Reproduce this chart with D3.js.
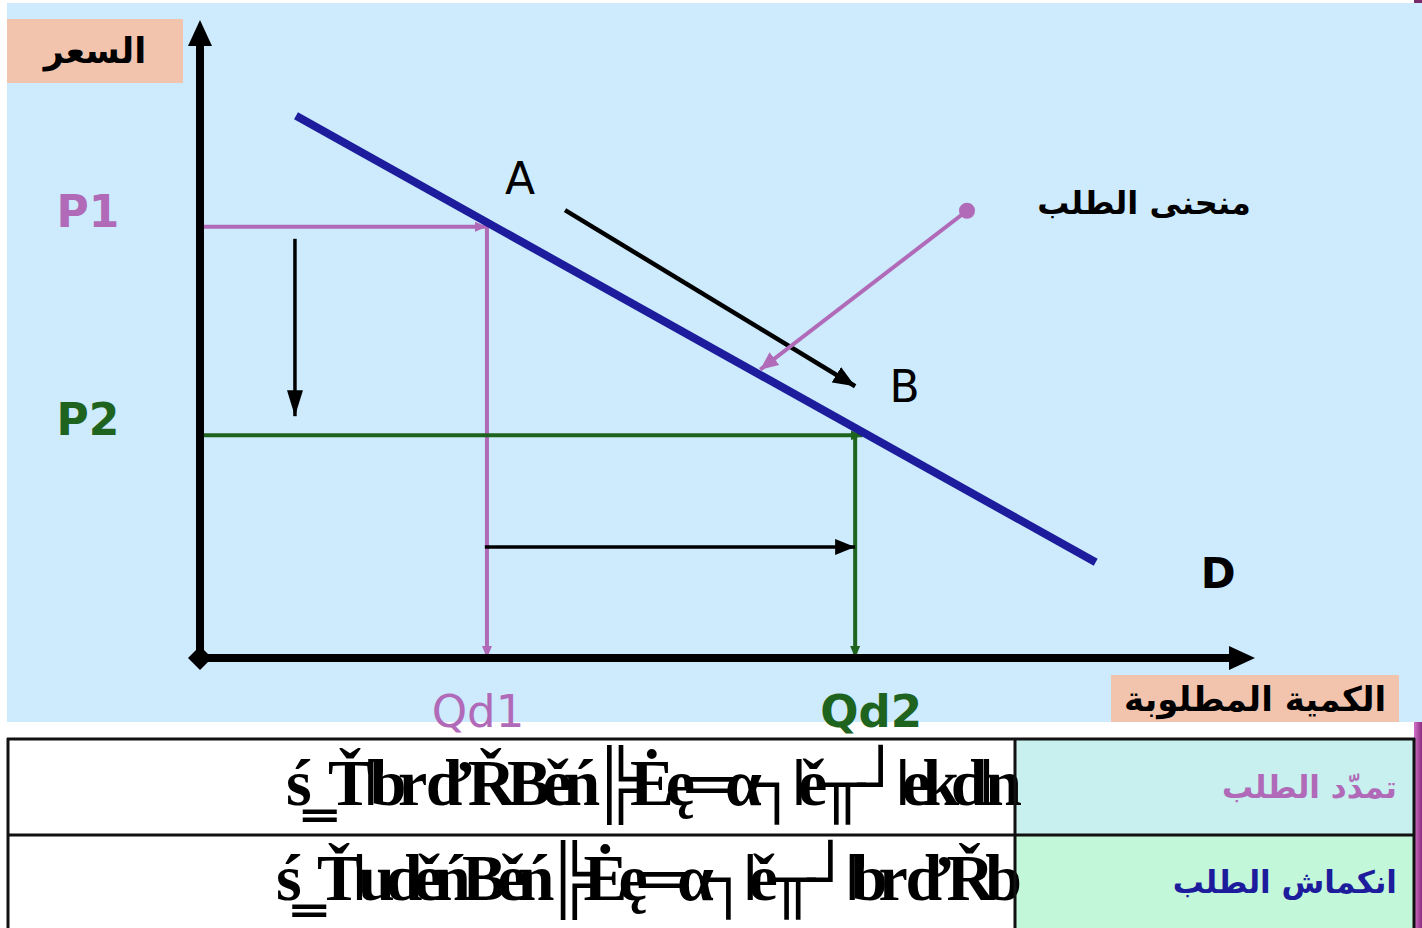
<!DOCTYPE html>
<html>
<head>
<meta charset="utf-8">
<script src="https://cdn.jsdelivr.net/npm/d3@7"></script>
<style>
html,body{margin:0;padding:0;background:#ffffff;}
svg{display:block;}
</style>
</head>
<body>
<svg id="chart" width="1422" height="928"></svg>
<script>
// ---- data ----
const priceLabels = ["P1", "P2"];
const priceValues = [67.6, 34.9];
const qtyLabels = ["Qd1", "Qd2"];
const qtyValues = [27.2, 62.1];
const demandCurve = [[9.1, 85.0], [84.9, 15.0]];
const pointLabels = ["A", "B"];
const pointValues = [[27.2, 67.6], [62.8, 34.9]];
const moveArrow = [[34.6, 70.2], [62.1, 42.6]];
const priceDropArrow = [[9.0, 65.7], [9.0, 37.9]];
const qtyRiseArrow = [[27.0, 17.4], [62.1, 17.4]];
const curvePointer = [[72.7, 70.1], [53.1, 45.2]];
const axisTitleY = "السعر";
const axisTitleX = "الكمية المطلوبة";
const curveTitle = "منحنى الطلب";
const curveName = "D";
const tableLabels = ["تمدّد الطلب", "انكماش الطلب"];
const tableGarbled = [
  "ś‗Ťǀbr d’ŘBěń╠Ėę═α┐ǀě╥┘ǀekdǀn",
  "ś‗ŤǀuděńBěń╠Ėę═α┐ǀě╥┘ǀbr d’Řb"
];

// ---- colours ----
const C = {
  bg: "#cdebfd", box: "#f2c4ae", purple: "#b06ab8", green: "#1e631e",
  blue: "#1c1c9c", black: "#000000", row1: "#c8f0ee", row2: "#c3f7da"
};

const svg = d3.select("#chart");
const x = d3.scaleLinear().domain([0, 100]).range([200, 1255]);
const y = d3.scaleLinear().domain([0, 100]).range([658, 20]);

// right edge decoration
const defs = svg.append("defs");
const grad = defs.append("linearGradient").attr("id", "edge")
  .attr("x1", 0).attr("x2", 1).attr("y1", 0).attr("y2", 0);
grad.append("stop").attr("offset", "0").attr("stop-color", "#d070c8");
grad.append("stop").attr("offset", "1").attr("stop-color", "#8c2c80");
svg.append("rect").attr("x", 1414).attr("y", 0).attr("width", 8).attr("height", 4).attr("fill", "#7a2a6a");
svg.append("rect").attr("x", 1414).attr("y", 722).attr("width", 8).attr("height", 206).attr("fill", "url(#edge)");

// background panel
svg.append("rect").attr("x", 7).attr("y", 3).attr("width", 1415).attr("height", 719).attr("fill", C.bg);

// markers
function marker(id, color, len, wid) {
  defs.append("marker").attr("id", id)
    .attr("markerUnits", "userSpaceOnUse")
    .attr("viewBox", `0 0 ${len} ${wid}`)
    .attr("refX", len).attr("refY", wid / 2)
    .attr("markerWidth", len).attr("markerHeight", wid)
    .attr("orient", "auto")
    .append("path").attr("d", `M0,0 L${len},${wid / 2} L0,${wid} Z`).attr("fill", color);
}
marker("mPurple", C.purple, 12, 10);
marker("mGreen", C.green, 12, 10);
marker("mBlack", C.black, 20, 16);
marker("mBlackBig", C.black, 22, 18);
marker("mDown", C.black, 26, 16);
marker("mPointer", C.purple, 18, 16);

// label boxes
svg.append("rect").attr("x", 7).attr("y", 19).attr("width", 176).attr("height", 64).attr("fill", C.box);
svg.append("text").attr("x", 95).attr("y", 63).attr("text-anchor", "middle")
  .attr("font-family", "DejaVu Sans").attr("font-weight", "bold").attr("font-size", 35)
  .attr("fill", C.black).text(axisTitleY);

svg.append("rect").attr("x", 1111).attr("y", 675).attr("width", 288).attr("height", 47).attr("fill", C.box);
svg.append("text").attr("x", 1255).attr("y", 711).attr("text-anchor", "middle")
  .attr("font-family", "DejaVu Sans").attr("font-weight", "bold").attr("font-size", 34)
  .attr("fill", C.black).text(axisTitleX);

// guide lines P1 (purple)
const g = svg.append("g");
g.append("line").attr("x1", x(0) - 3).attr("y1", y(priceValues[0])).attr("x2", x(pointValues[0][0])).attr("y2", y(priceValues[0]))
  .attr("stroke", C.purple).attr("stroke-width", 4).attr("marker-end", "url(#mPurple)");
g.append("line").attr("x1", x(qtyValues[0])).attr("y1", y(priceValues[0])).attr("x2", x(qtyValues[0])).attr("y2", y(0))
  .attr("stroke", C.purple).attr("stroke-width", 4).attr("marker-end", "url(#mPurple)");
// guide lines P2 (green)
g.append("line").attr("x1", x(0) - 3).attr("y1", y(priceValues[1])).attr("x2", x(pointValues[1][0])).attr("y2", y(priceValues[1]))
  .attr("stroke", C.green).attr("stroke-width", 4).attr("marker-end", "url(#mGreen)");
g.append("line").attr("x1", x(qtyValues[1])).attr("y1", y(priceValues[1])).attr("x2", x(qtyValues[1])).attr("y2", y(0))
  .attr("stroke", C.green).attr("stroke-width", 4).attr("marker-end", "url(#mGreen)");

// demand curve
svg.append("path").datum(demandCurve)
  .attr("d", d3.line().x(d => x(d[0])).y(d => y(d[1])))
  .attr("stroke", C.blue).attr("stroke-width", 8).attr("fill", "none");

// black arrows
svg.append("path").datum(moveArrow)
  .attr("d", d3.line().x(d => x(d[0])).y(d => y(d[1])))
  .attr("stroke", C.black).attr("stroke-width", 4.5).attr("fill", "none").attr("marker-end", "url(#mBlackBig)");
svg.append("path").datum(priceDropArrow)
  .attr("d", d3.line().x(d => x(d[0])).y(d => y(d[1])))
  .attr("stroke", C.black).attr("stroke-width", 3.5).attr("fill", "none").attr("marker-end", "url(#mDown)");
svg.append("path").datum(qtyRiseArrow)
  .attr("d", d3.line().x(d => x(d[0])).y(d => y(d[1])))
  .attr("stroke", C.black).attr("stroke-width", 3.5).attr("fill", "none").attr("marker-end", "url(#mBlack)");

// purple pointer
svg.append("path").datum(curvePointer)
  .attr("d", d3.line().x(d => x(d[0])).y(d => y(d[1])))
  .attr("stroke", C.purple).attr("stroke-width", 4).attr("fill", "none").attr("marker-end", "url(#mPointer)");
svg.append("circle").attr("cx", x(curvePointer[0][0])).attr("cy", y(curvePointer[0][1])).attr("r", 8).attr("fill", C.purple);

// axes
svg.append("line").attr("x1", x(0)).attr("y1", y(0)).attr("x2", x(0)).attr("y2", y(100) + 22)
  .attr("stroke", C.black).attr("stroke-width", 8);
svg.append("path").attr("d", `M${x(0)},${y(100)} L${x(0) + 12},${y(100) + 26} L${x(0) - 12},${y(100) + 26} Z`).attr("fill", C.black);
svg.append("line").attr("x1", x(0)).attr("y1", y(0)).attr("x2", x(100) - 22).attr("y2", y(0))
  .attr("stroke", C.black).attr("stroke-width", 8);
svg.append("path").attr("d", `M${x(100)},${y(0)} L${x(100) - 26},${y(0) - 12} L${x(100) - 26},${y(0) + 12} Z`).attr("fill", C.black);
svg.append("path").attr("d", `M${x(0)},${y(0) - 12} L${x(0) + 12},${y(0)} L${x(0)},${y(0) + 12} L${x(0) - 12},${y(0)} Z`).attr("fill", C.black);

// price labels
const priceColors = [C.purple, C.green];
svg.selectAll(".plab").data(priceLabels).join("text")
  .attr("x", 88).attr("y", (d, i) => y(priceValues[i]) - 12)
  .attr("dominant-baseline", "middle").attr("text-anchor", "middle")
  .attr("font-family", "DejaVu Sans").attr("font-weight", "bold").attr("font-size", 44)
  .attr("fill", (d, i) => priceColors[i]).text(d => d);

// qty labels
svg.selectAll(".qlab").data(qtyLabels).join("text")
  .attr("x", (d, i) => x(qtyValues[i]) + (i === 0 ? -9 : 16)).attr("y", 727)
  .attr("text-anchor", "middle")
  .attr("font-family", "DejaVu Sans").attr("font-weight", (d, i) => i === 0 ? "normal" : "bold").attr("font-size", 45)
  .attr("fill", (d, i) => priceColors[i]).text(d => d);

// point labels
const pOff = [[33, -45], [42, -45]];
svg.selectAll(".ptlab").data(pointLabels).join("text")
  .attr("x", (d, i) => x(pointValues[i][0]) + pOff[i][0]).attr("y", (d, i) => y(pointValues[i][1]) + pOff[i][1])
  .attr("dominant-baseline", "middle").attr("text-anchor", "middle")
  .attr("font-family", "DejaVu Sans").attr("font-size", 44)
  .attr("fill", C.black).text(d => d);

// curve name and title
svg.append("text").attr("x", x(96.5)).attr("y", 588).attr("text-anchor", "middle")
  .attr("font-family", "DejaVu Sans").attr("font-weight", "bold").attr("font-size", 42)
  .attr("fill", C.black).text(curveName);
svg.append("text").attr("x", 1144).attr("y", 214).attr("text-anchor", "middle")
  .attr("font-family", "DejaVu Sans").attr("font-weight", "bold").attr("font-size", 32)
  .attr("fill", C.black).text(curveTitle);

// table
const rowTop = [738, 835], rowH = [97, 93];
const rowFill = [C.row1, C.row2];
const rowTextColor = [C.purple, C.blue];
rowTop.forEach((t, i) => {
  svg.append("rect").attr("x", 8).attr("y", t).attr("width", 1007).attr("height", rowH[i]).attr("fill", "#ffffff");
  svg.append("rect").attr("x", 1015).attr("y", t).attr("width", 399).attr("height", rowH[i]).attr("fill", rowFill[i]);
});
svg.selectAll(".tlab").data(tableLabels).join("text")
  .attr("x", 1397).attr("y", (d, i) => [798, 893][i]).attr("text-anchor", "end")
  .attr("font-family", "DejaVu Sans").attr("font-weight", "bold").attr("font-size", 31)
  .attr("fill", (d, i) => rowTextColor[i]).text(d => d);
const gStart = [286, 276];
const gl = svg.selectAll(".glab").data(tableGarbled).join("text")
  .attr("x", (d, i) => gStart[i]).attr("y", (d, i) => [805, 900][i])
  .attr("font-family", "Liberation Serif").attr("font-weight", "bold").attr("font-size", 66)
  .attr("fill", C.black).text(d => d);
// squeeze the glyphs together with negative letter spacing so the run fits its cell
gl.each(function (d, i) {
  const natural = this.getComputedTextLength();
  const n = Array.from(d).length;
  const target = 1022 - gStart[i];
  d3.select(this).attr("letter-spacing", (target - natural) / (n - 1));
});
// table grid
const grid = svg.append("g").attr("stroke", "#111").attr("stroke-width", 3).attr("fill", "none");
grid.append("line").attr("x1", 7).attr("y1", 739).attr("x2", 1415).attr("y2", 739);
grid.append("line").attr("x1", 7).attr("y1", 835).attr("x2", 1415).attr("y2", 835);
grid.append("line").attr("x1", 8).attr("y1", 738).attr("x2", 8).attr("y2", 928);
grid.append("line").attr("x1", 1015).attr("y1", 738).attr("x2", 1015).attr("y2", 928);
grid.append("line").attr("x1", 1414).attr("y1", 738).attr("x2", 1414).attr("y2", 928);
</script>
</body>
</html>
